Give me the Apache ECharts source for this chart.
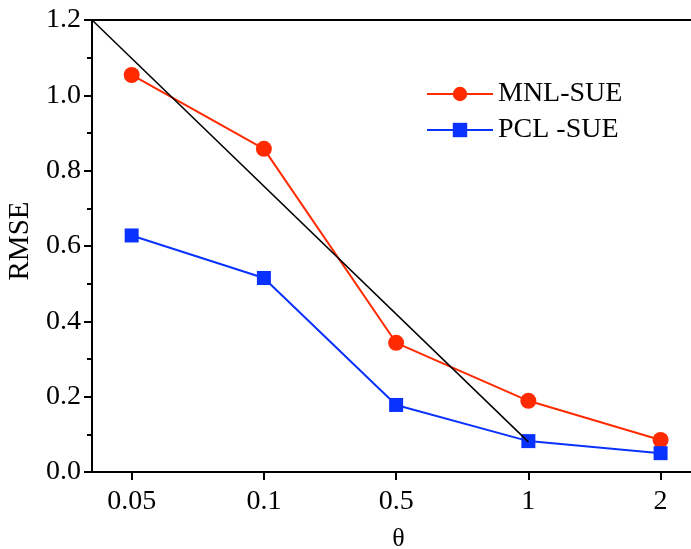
<!DOCTYPE html>
<html>
<head>
<meta charset="utf-8">
<script src="https://cdn.jsdelivr.net/npm/echarts@6/dist/echarts.min.js"></script>
<style>html,body{margin:0;padding:0;background:#fff;}#c{width:691px;height:549px;}</style>
</head>
<body>
<div id="c"></div>
<script>
const categories = ['0.05', '0.1', '0.5', '1', '2'];
const mnlSue = [1.054, 0.858, 0.343, 0.189, 0.085];
const pclSue = [0.628, 0.515, 0.178, 0.082, 0.050];
const refLineX = [0.7, 4];
const refLineY = [1.2, 0.08];

const pos = categories.map((c, i) => i + 1);
const font = 'Liberation Serif';
const chart = echarts.init(document.getElementById('c'));
chart.setOption({
  animation: false,
  backgroundColor: '#fff',
  grid: { left: 92, right: 0, top: 20, bottom: 77, containLabel: false, outerBoundsMode: 'none' },
  legend: {
    data: ['MNL-SUE', 'PCL -SUE'],
    orient: 'vertical',
    left: 421, top: 75,
    itemWidth: 66, itemHeight: 18, itemGap: 8,
    textStyle: { fontFamily: font, fontSize: 28, color: '#000' }
  },
  xAxis: {
    type: 'value', min: 0.7, max: 5.23,
    name: 'θ', nameLocation: 'middle', nameGap: 54,
    nameTextStyle: { fontFamily: font, fontSize: 26, color: '#000', padding: [0, 0, 0, 14] },
    axisLine: { lineStyle: { color: '#000', width: 2 } },
    axisTick: { show: true, inside: false, length: 8, customValues: pos, lineStyle: { color: '#000', width: 2 } },
    axisLabel: { customValues: pos, formatter: v => categories[Math.round(v) - 1] || '', fontFamily: font, fontSize: 28, color: '#000', margin: 16 },
    splitLine: { show: false }
  },
  yAxis: {
    type: 'value', min: 0, max: 1.2, interval: 0.2,
    name: 'RMSE', nameLocation: 'middle', nameGap: 46, nameRotate: 90,
    nameTextStyle: { fontFamily: font, fontSize: 29, color: '#000', padding: [0, 0, 0, 10] },
    axisLine: { show: true, lineStyle: { color: '#000', width: 2 } },
    axisTick: { show: true, inside: false, length: 8, lineStyle: { color: '#000', width: 2 } },
    minorTick: { show: true, splitNumber: 2, length: 5, lineStyle: { color: '#000', width: 2 } },
    axisLabel: { formatter: v => v.toFixed(1), fontFamily: font, fontSize: 28, color: '#000', margin: 11 },
    splitLine: { show: false }
  },
  series: [
    {
      name: 'top frame', type: 'line', silent: true, symbol: 'none',
      data: [[0.7, 1.2], [5.23, 1.2]],
      lineStyle: { color: '#000', width: 2 }, z: 1
    },
    {
      name: 'ref', type: 'line', silent: true, symbol: 'none',
      data: refLineX.map((x, i) => [x, refLineY[i]]),
      lineStyle: { color: '#000', width: 1.5 }, z: 3
    },
    {
      name: 'MNL-SUE', type: 'line',
      data: pos.map((x, i) => [x, mnlSue[i]]),
      symbol: 'circle', symbolSize: 16,
      itemStyle: { color: '#ff2a00' },
      lineStyle: { color: '#ff2a00', width: 2 }, z: 2
    },
    {
      name: 'PCL -SUE', type: 'line',
      data: pos.map((x, i) => [x, pclSue[i]]),
      symbol: 'rect', symbolSize: 14,
      itemStyle: { color: '#0a32ff' },
      lineStyle: { color: '#0a32ff', width: 2 }, z: 2
    }
  ]
});
</script>
</body>
</html>
